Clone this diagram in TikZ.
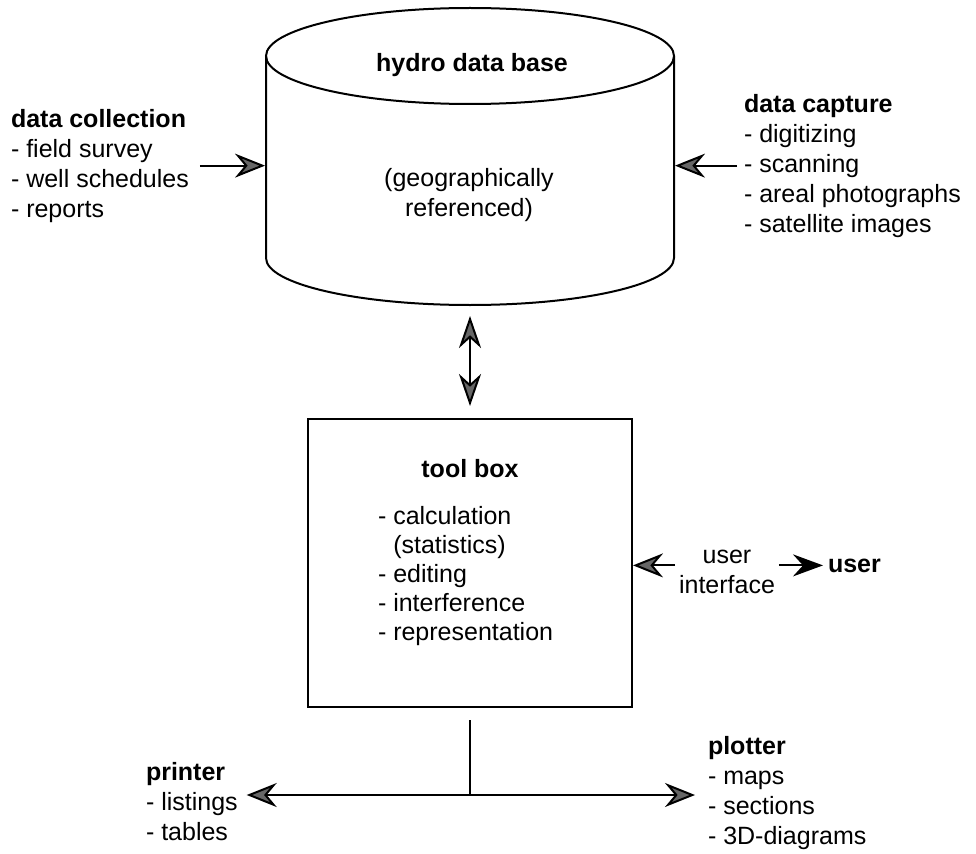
\documentclass[tikz,border=0pt]{standalone}
\usepackage{fontspec}
\setmainfont{Liberation Sans}
\usetikzlibrary{arrows.meta}

\begin{document}
\begin{tikzpicture}[x=1pt,y=1pt,line width=2pt]
            \tikzstyle{every node}+=[inner sep=0pt, font=\fontsize{25}{30}\selectfont]
            \tikzstyle{list}=[align=left, anchor=north west]
            \tikzstyle{head}=[-{Stealth[length=30pt,width=24pt,inset=10pt,fill=black!60]}]
            \useasboundingbox (0,0) rectangle (976,-853);
            % data base
            \draw [black] (470,-56) ellipse [x radius=204, y radius=48];
            \draw [black] (266,-56) -- (266,-258) arc [start angle=180, end angle=360, x radius=204, y radius=47] -- (674,-56);
            \node [minimum width=408pt, minimum height=297pt] (db) at (470,-156.5) {};
            \node [anchor=base] (dbname) at (472,-72) {\textbf{hydro data base}};
            \node [align=center, anchor=north] (dbnote) at (469,-167) {(geographically\\referenced)};
            % tool box
            \node [draw, minimum width=324pt, minimum height=288pt] (tool) at (470,-563) {};
            \node [anchor=base] (toolname) at (470,-477) {\textbf{tool box}};
            \node [list, font=\fontsize{25}{29}\selectfont] (toollist) at (377,-505) {- calculation\\\phantom{- }(statistics)\\- editing\\- interference\\- representation};
            % sources
            \node [list] (collect) at (10,-108) {\textbf{data collection}\\- field survey\\- well schedules\\- reports};
            \node [list] (capture) at (743,-93) {\textbf{data capture}\\- digitizing\\- scanning\\- areal photographs\\- satellite images};
            \draw [head, shorten <=10pt] (collect.east) -- (collect.east -| db.west);
            \draw [head, shorten <=6pt] (capture.west) -- (capture.west -| db.east);
            \draw [{Stealth[length=32pt,width=22pt,inset=10pt,fill=black!60]}-{Stealth[length=32pt,width=22pt,inset=10pt,fill=black!60]}, shorten <=10pt, shorten >=12pt] (db.south) -- (tool.north);
            % user
            \node [align=center] (uif) at (727,-572) {user\\interface};
            \node [anchor=base west] (usr) at (827,-572) {\textbf{user}};
            \draw [head, shorten <=3pt] (uif.west |- usr.west) -- (tool.east |- usr.west);
            \draw [-{Stealth[length=30pt,width=22pt,inset=10pt]}, shorten <=3pt, shorten >=4pt] (uif.east |- usr.west) -- (usr.west);
            % output
            \node [list] (printer) at (145,-761) {\textbf{printer}\\ - listings\\ - tables};
            \node [list] (plotter) at (707,-735) {\textbf{plotter}\\- maps\\- sections\\- 3D-diagrams};
            \coordinate (junc) at (470,-795);
            \draw [shorten <=12pt] (tool.south) -- (junc);
            \draw [head] (junc) -- ([xshift=8pt]junc -| printer.east);
            \draw [head, shorten >=12pt] (junc) -- (junc -| plotter.west);
\end{tikzpicture}
\end{document}
